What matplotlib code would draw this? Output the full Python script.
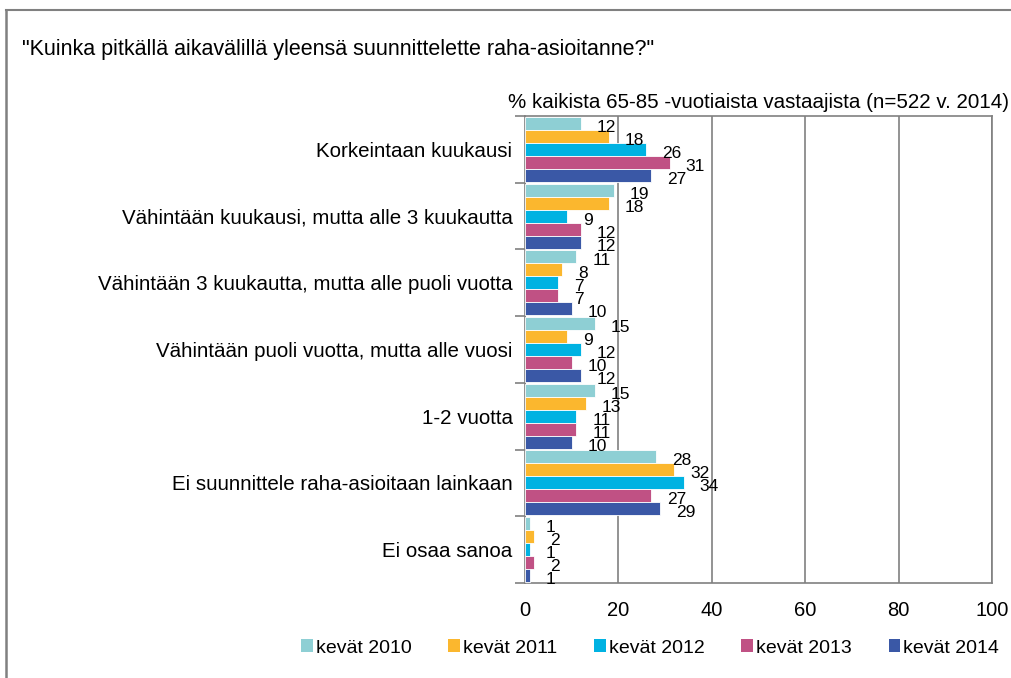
import matplotlib
matplotlib.use("Agg")
import matplotlib.pyplot as plt
from matplotlib.lines import Line2D
from matplotlib.patches import Patch
import numpy as np

plt.rcParams['font.family'] = ['Liberation Sans', 'DejaVu Sans']

categories = [
    "Korkeintaan kuukausi",
    "Vähintään kuukausi, mutta alle 3 kuukautta",
    "Vähintään 3 kuukautta, mutta alle puoli vuotta",
    "Vähintään puoli vuotta, mutta alle vuosi",
    "1-2 vuotta",
    "Ei suunnittele raha-asioitaan lainkaan",
    "Ei osaa sanoa",
]
series_names = ["kevät 2010", "kevät 2011", "kevät 2012", "kevät 2013", "kevät 2014"]
v2010 = [12, 19, 11, 15, 15, 28, 1]
v2011 = [18, 18, 8, 9, 13, 32, 2]
v2012 = [26, 9, 7, 12, 11, 34, 1]
v2013 = [31, 12, 7, 10, 11, 27, 2]
v2014 = [27, 12, 10, 12, 10, 29, 1]
series_values = [v2010, v2011, v2012, v2013, v2014]
colors = ["#8ECFD4", "#FBB72E", "#00B2E2", "#C05184", "#3A58A6"]
xticks = [0, 20, 40, 60, 80, 100]

title = '"Kuinka pitkällä aikavälillä yleensä suunnittelette raha-asioitanne?"'
subtitle = "% kaikista 65-85 -vuotiaista vastaajista (n=522 v. 2014)"

fig = plt.figure(figsize=(10.12, 6.78), dpi=100)
ax = fig.add_axes([525/1012, 1-583/678, (992-525)/1012, (583-116)/678])

n_cat = len(categories)
bar_h = 0.195
ypos = np.arange(n_cat)
for s, (vals, col) in enumerate(zip(series_values, colors)):
    y = ypos - 0.4875 + bar_h/2 + s*bar_h
    ax.barh(y, vals, height=bar_h, color=col, edgecolor='white', linewidth=0.6, zorder=3)
    for yy, v in zip(y, vals):
        ax.annotate(f"{v}", (v, yy), xytext=(16, -4), textcoords='offset pixels',
                    ha='left', va='center', fontsize=12.5, color='black', zorder=4)

ax.set_ylim(n_cat - 0.5, -0.5)
ax.set_xlim(0, 100)
ax.set_xticks(xticks)
ax.set_xticklabels([str(t) for t in xticks], fontsize=14.5)
ax.tick_params(axis='x', length=0, pad=13)
ax.set_yticks(ypos)
ax.set_yticklabels(categories, fontsize=14.8)
ax.tick_params(axis='y', length=0, pad=9)
ax.set_yticks(np.arange(n_cat + 1) - 0.5, minor=True)
ax.tick_params(axis='y', which='minor', length=7, color='#808080', width=1.2)
ax.xaxis.grid(True, color='#808080', linewidth=1.2, zorder=0)
for sp in ax.spines.values():
    sp.set_color('#808080')
    sp.set_linewidth(1.2)

fig.text(22/1012, 1-50/678, title, fontsize=15.5, ha='left', va='center')
fig.text(1009/1012, 1-103/678, subtitle, fontsize=14.8, ha='right', va='center')

handles = [Patch(facecolor=c, edgecolor='none') for c in colors]
fig.legend(handles, series_names, loc='center', bbox_to_anchor=(650/1012, 1-648/678),
           ncol=5, frameon=False, fontsize=14, handlelength=0.6, handleheight=0.6,
           handletextpad=0.15, columnspacing=1.9)

fig.add_artist(Line2D([6/1012, 1.0], [1-10/678, 1-10/678], color='#808080', linewidth=1.5))
fig.add_artist(Line2D([6/1012, 6/1012], [0, 1-10/678], color='#808080', linewidth=1.8))

fig.savefig("out.png", dpi=100)
